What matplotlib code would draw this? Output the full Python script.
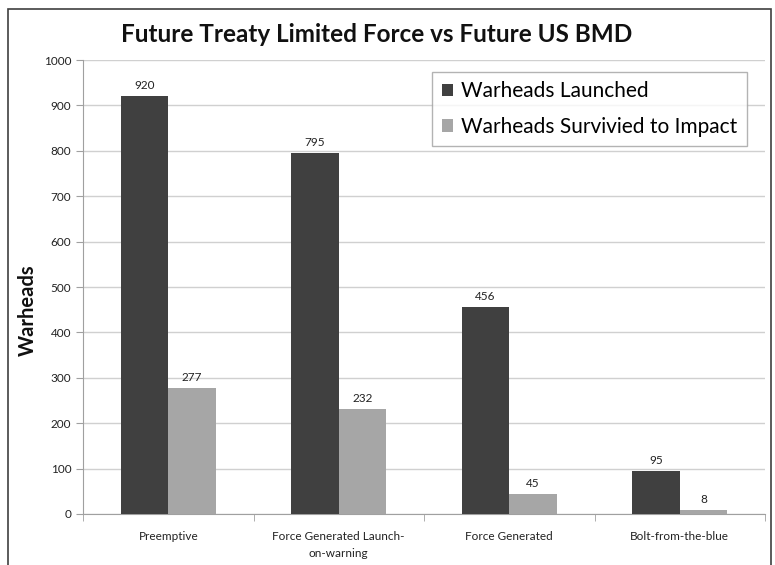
import numpy as np
import matplotlib
matplotlib.use("Agg")
from matplotlib import pyplot as plt
from matplotlib.patches import Rectangle

# chart data
CATEGORIES = ["Preemptive", "Force Generated Launch-\non-warning",
              "Force Generated", "Bolt-from-the-blue"]
LAUNCHED = [920, 795, 456, 95]
SURVIVED = [277, 232, 45, 8]
SERIES_NAMES = ["Warheads Launched", "Warheads Survivied to Impact"]
Y_TICKS = [0, 100, 200, 300, 400, 500, 600, 700, 800, 900, 1000]

DARK = "#404040"
LIGHT = "#a6a6a6"

plt.rcParams['font.family'] = ['Lato', 'DejaVu Sans']

fig = plt.figure(figsize=(7.75, 5.65), dpi=100)
ax = fig.add_axes([83 / 775, 1 - 514 / 565, (765 - 83) / 775, (514 - 60) / 565])

# outer chart frame
fig.patches.append(Rectangle((8 / 775, -0.05), (771 - 8) / 775, 1.05 - 9 / 565,
                             transform=fig.transFigure, fill=False,
                             edgecolor="#404040", linewidth=1.2))

x = np.arange(len(CATEGORIES))
w = 0.28
b1 = ax.bar(x - w / 2, LAUNCHED, w, color=DARK, label=SERIES_NAMES[0], zorder=3)
b2 = ax.bar(x + w / 2, SURVIVED, w, color=LIGHT, label=SERIES_NAMES[1], zorder=3)

for bars in (b1, b2):
    for r in bars:
        ax.annotate(f"{int(r.get_height())}",
                    (r.get_x() + r.get_width() / 2, r.get_height()),
                    xytext=(0, 7.5), textcoords="offset points",
                    ha="center", va="center", fontsize=8.5, color="#222222")

ax.set_xlim(-0.5, len(CATEGORIES) - 0.5)
ax.set_ylim(0, 1000)
ax.set_yticks(Y_TICKS)
ax.yaxis.grid(True, color="#d0d0d0", linewidth=1, zorder=0)
ax.set_axisbelow(True)

ax.set_xticks(x)
ax.set_xticklabels(CATEGORIES, fontsize=8.5, color="#222222", linespacing=1.75)
ax.tick_params(axis="x", length=0, pad=12)
ax.set_xticks(np.arange(len(CATEGORIES) + 1) - 0.5, minor=True)
ax.tick_params(axis="x", which="minor", length=5, color="#a0a0a0")
ax.tick_params(axis="y", labelsize=8.5, length=5, color="#a0a0a0", labelcolor="#222222")

for s in ("top", "right"):
    ax.spines[s].set_visible(False)
ax.spines["left"].set_color("#a0a0a0")
ax.spines["bottom"].set_color("#a0a0a0")

fig.text(28 / 775, 1 - 310 / 565, "Warheads", rotation=90, ha="center", va="center",
         fontsize=14.5, fontweight="bold", color="#111111")

fig.text(377 / 775, 1 - 35 / 565, "Future Treaty Limited Force vs Future US BMD",
         ha="center", va="center", fontsize=17.5, fontweight="bold", color="#111111")

leg = ax.legend(loc="upper right", bbox_to_anchor=(747 / 775, 1 - 72 / 565),
                bbox_transform=fig.transFigure, fontsize=15, frameon=True,
                fancybox=False, edgecolor="#a0a0a0", handlelength=0.55,
                handleheight=0.55, handletextpad=0.4, labelspacing=0.75,
                borderpad=0.45, borderaxespad=0)
leg.get_frame().set_linewidth(1)

plt.savefig("out.png", dpi=100)
